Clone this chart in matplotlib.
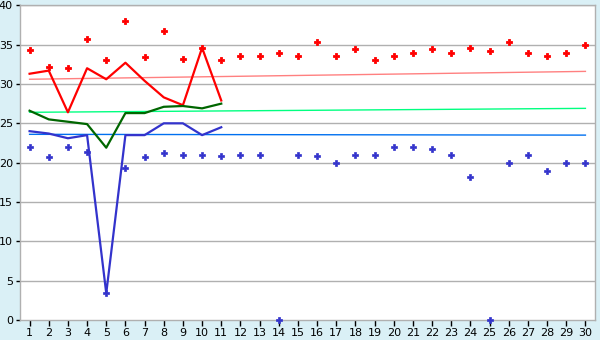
import matplotlib
matplotlib.use("Agg")
import matplotlib.pyplot as plt

days = list(range(1, 31))
max_vals = [34.3, 32.2, 32.0, 35.7, 33.0, 38.0, 33.4, 36.7, 33.2, 34.6,
            33.1, 33.5, 33.5, 34.0, 33.6, 35.3, 33.5, 34.5, 33.0, 33.5,
            34.0, 34.4, 33.9, 34.6, 34.2, 35.3, 33.9, 33.5, 34.0, 35.0]
min_vals = [22.0, 20.7, 22.0, 21.3, 3.4, 19.3, 20.7, 21.2, 21.0, 21.0,
            20.9, 21.0, 21.0, 0.0, 21.0, 20.9, 20.0, 21.0, 21.0, 22.0,
            22.0, 21.7, 21.0, 18.2, 0.0, 20.0, 21.0, 19.0, 20.0, 20.0]

line_days = list(range(1, 12))
red_line = [31.3, 31.7, 26.4, 32.0, 30.6, 32.7, 30.4, 28.3, 27.3, 34.6, 27.9]
green_line = [26.6, 25.5, 25.2, 24.9, 21.9, 26.3, 26.3, 27.1, 27.2, 26.9, 27.5]
blue_line = [24.0, 23.7, 23.1, 23.5, 3.4, 23.5, 23.5, 25.0, 25.0, 23.5, 24.5]

trend_days = [1, 30]
red_trend = [30.6, 31.6]
green_trend = [26.4, 26.9]
blue_trend = [23.6, 23.5]

y_ticks = [0, 5, 10, 15, 20, 25, 30, 35, 40]

bg = "#daf0f6"
grid_c = "#b0b0b0"

fig = plt.figure(figsize=(6, 3.4), dpi=100, facecolor=bg)
ax = fig.add_axes([20/600, 1-320/340, 575/600, (320-5.3)/340])
ax.set_facecolor("white")

for y in y_ticks[1:]:
    ax.axhline(y, color=grid_c, lw=1, zorder=0)

ax.plot(trend_days, red_trend, color="#ff8080", lw=1, zorder=2)
ax.plot(trend_days, green_trend, color="#00ff80", lw=1, zorder=2)
ax.plot(trend_days, blue_trend, color="#0070f0", lw=1, zorder=2)

ax.plot(line_days, red_line, color="#ff0000", lw=1.6, zorder=3)
ax.plot(line_days, green_line, color="#006600", lw=1.6, zorder=3)
ax.plot(line_days, blue_line, color="#3333cc", lw=1.6, zorder=3)

ax.plot(days, max_vals, ls="none", marker="P", ms=5, color="#ff0000",
        markeredgewidth=0.6, zorder=4)
ax.plot(days, min_vals, ls="none", marker="P", ms=4.5, color="#3333cc",
        markeredgewidth=0.5, zorder=4, clip_on=False)

ax.set_xlim(0.5, 30.5)
ax.set_ylim(0, 40)
ax.set_xticks(days)
ax.set_xticklabels([str(d) for d in days])
ax.set_yticks(y_ticks)
ax.set_yticklabels([str(v) for v in y_ticks])
ax.tick_params(axis="both", labelsize=8, colors="black", length=4, width=1, pad=2)
ax.tick_params(axis="y", length=3)

for s in ax.spines.values():
    s.set_color(grid_c)
    s.set_linewidth(1)

fig.savefig("out.png", dpi=100, facecolor=bg)
